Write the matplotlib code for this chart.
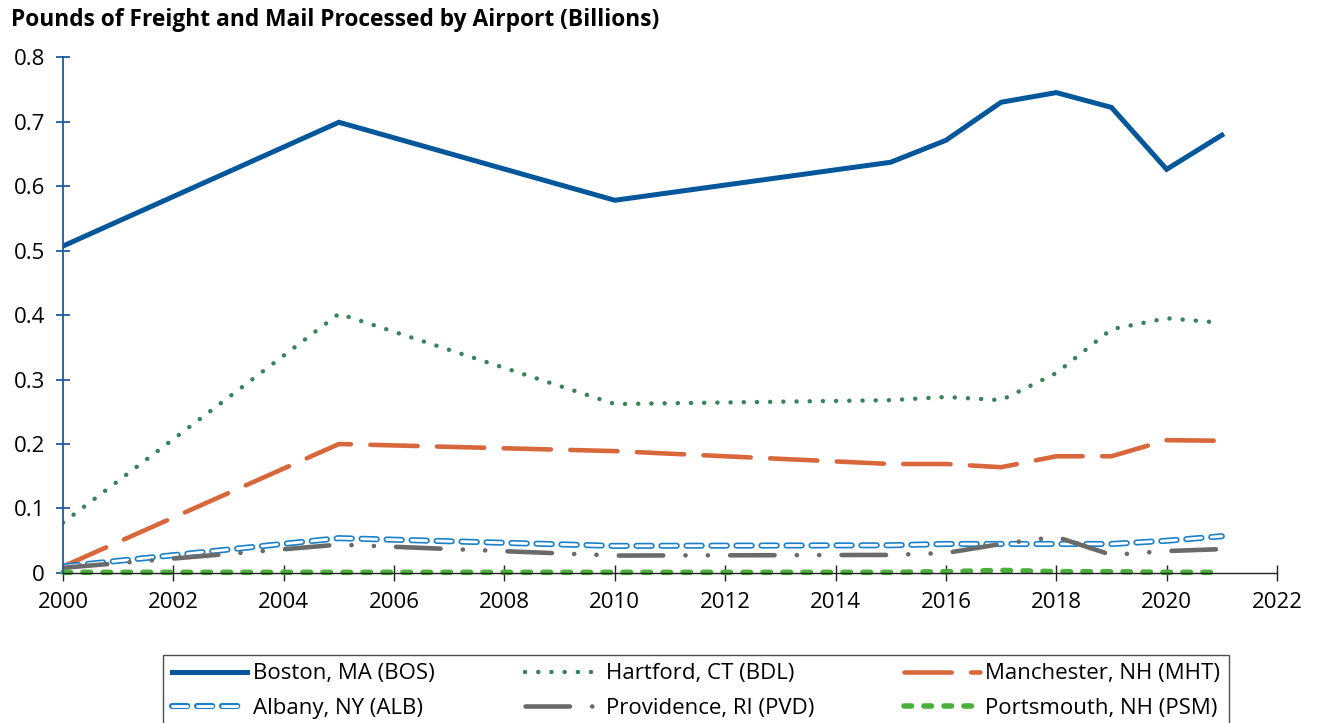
import matplotlib
matplotlib.use('Agg')
import matplotlib.pyplot as plt

plt.rcParams['font.family'] = ['Open Sans', 'DejaVu Sans']
plt.rcParams['lines.scale_dashes'] = False

years = [2000, 2005, 2010, 2015, 2016, 2017, 2018, 2019, 2020, 2021]

boston = [0.507, 0.699, 0.578, 0.637, 0.671, 0.730, 0.745, 0.722, 0.626, 0.679]
hartford = [0.078, 0.402, 0.262, 0.268, 0.273, 0.268, 0.310, 0.378, 0.395, 0.388]
manchester = [0.010, 0.200, 0.189, 0.169, 0.169, 0.164, 0.181, 0.181, 0.206, 0.205]
albany = [0.010, 0.054, 0.042, 0.043, 0.045, 0.045, 0.045, 0.045, 0.050, 0.057]
providence = [0.008, 0.044, 0.027, 0.028, 0.031, 0.045, 0.056, 0.028, 0.034, 0.037]
portsmouth = [0.001, 0.001, 0.001, 0.001, 0.002, 0.004, 0.002, 0.002, 0.001, 0.001]

labels = ['Boston, MA (BOS)', 'Hartford, CT (BDL)', 'Manchester, NH (MHT)',
          'Albany, NY (ALB)', 'Providence, RI (PVD)', 'Portsmouth, NH (PSM)']

fig = plt.figure(figsize=(13.21, 7.23), dpi=100)
ax = fig.add_axes([0.0477, 0.2075, 0.919, 0.7135])

l_bos, = ax.plot(years, boston, color='#04579A', lw=3.6, solid_joinstyle='miter')
l_bdl, = ax.plot(years, hartford, color='#37845A', lw=3.2,
                 linestyle=(0, (0.1, 9.4)), dash_capstyle='round')
l_mht, = ax.plot(years, manchester, color='#D8683C', lw=3.3,
                 linestyle=(0, (34, 14)), dash_capstyle='round')
# Albany: outlined dashes = thick blue dash with a thin white dash on top
l_alb1, = ax.plot(years, albany, color='#1A80C8', lw=4.4,
                  linestyle=(0, (11, 7)), dash_capstyle='round')
l_alb2, = ax.plot(years, albany, color='white', lw=2.0,
                  linestyle=(0, (11, 7)), dash_capstyle='round')
l_pvd, = ax.plot(years, providence, color='#6A6A6A', lw=3.3,
                 linestyle=(0, (32, 16, 0.1, 16, 0.1, 16)), dash_capstyle='round')
l_psm, = ax.plot(years, portsmouth, color='#4BAF3C', lw=4,
                 linestyle=(0, (5.4, 9)), dash_capstyle='round', clip_on=False)

ax.set_xlim(2000, 2022)
ax.set_ylim(0, 0.8)
ax.set_xticks(range(2000, 2023, 2))
ax.set_yticks([i / 10 for i in range(9)])
ax.set_yticklabels(['0', '0.1', '0.2', '0.3', '0.4', '0.5', '0.6', '0.7', '0.8'])

for s in ['top', 'right']:
    ax.spines[s].set_visible(False)
ax.spines['left'].set_color('#1F5A9E')
ax.spines['left'].set_linewidth(1.3)
ax.spines['bottom'].set_color('#222222')
ax.spines['bottom'].set_linewidth(1.0)
ax.tick_params(axis='y', direction='inout', length=10, width=1.3, color='#1F5A9E',
               labelsize=16, pad=8)
ax.tick_params(axis='x', direction='inout', length=12, width=1.0, color='#222222',
               labelsize=16, pad=8)

fig.text(0.008, 0.972, 'Pounds of Freight and Mail Processed by Airport (Billions)',
         fontsize=16.4, fontweight='bold', ha='left', va='center')

# legend fills column by column, so reorder to read row by row
order = [0, 3, 1, 4, 2, 5]
handles = [l_bos, l_bdl, l_mht, (l_alb1, l_alb2), l_pvd, l_psm]
leg = fig.legend([handles[i] for i in order], [labels[i] for i in order],
                 loc='upper center', bbox_to_anchor=(0.527, 0.11),
                 ncol=3, fontsize=16, frameon=True, fancybox=False, edgecolor='#222222',
                 handlelength=3.4, handletextpad=0.25, columnspacing=4.05,
                 borderpad=0.4, labelspacing=0.6)
leg.get_frame().set_linewidth(1.0)

fig.savefig('out.png', dpi=100)
